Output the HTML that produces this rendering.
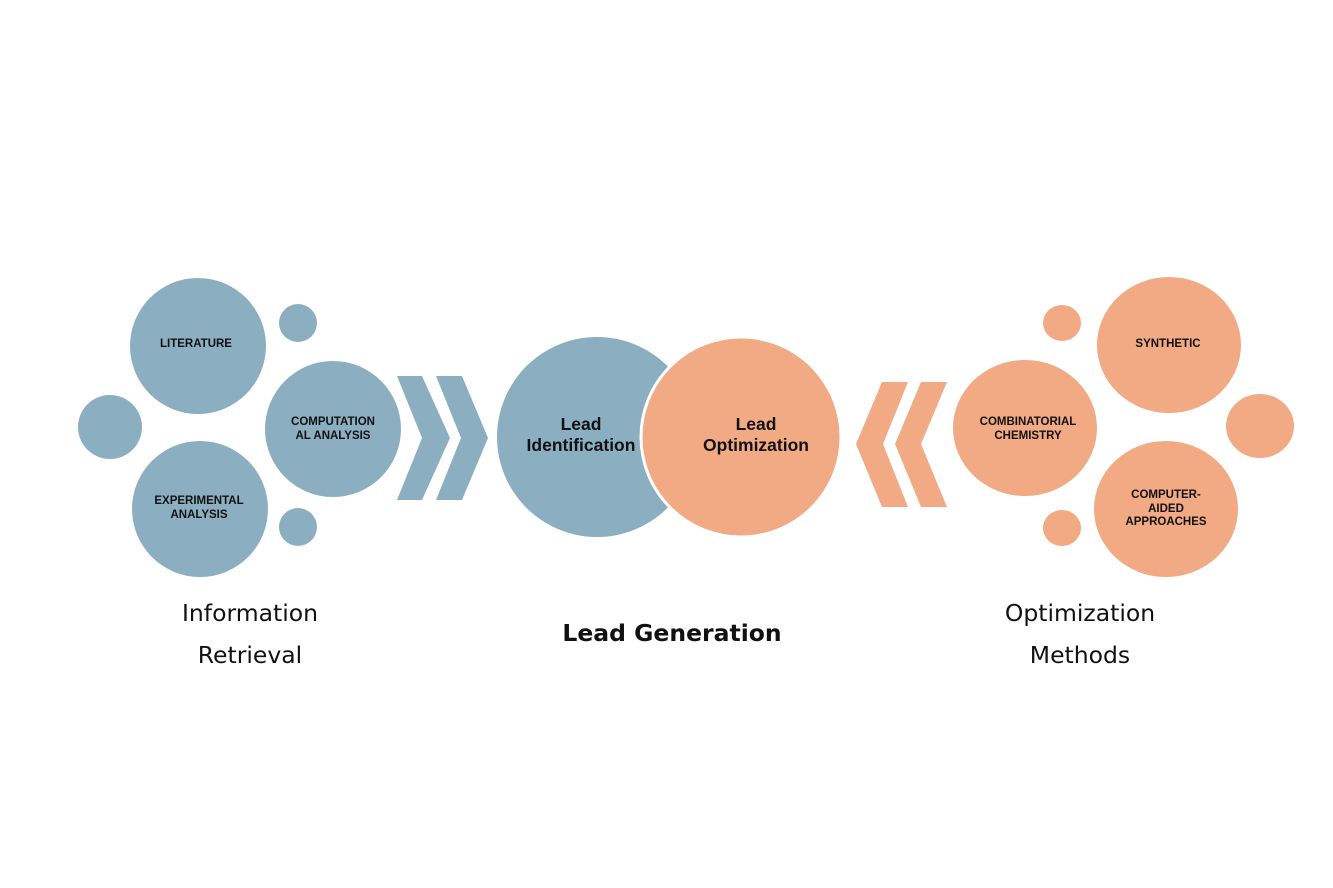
<!DOCTYPE html>
<html><head><meta charset="utf-8"><style>
body{margin:0;background:#fff;}
svg{display:block;}
.s{font-family:"Liberation Sans",sans-serif;font-weight:bold;font-size:11.5px;fill:#111;text-anchor:middle;}
.m{font-family:"Liberation Sans",sans-serif;font-weight:bold;font-size:17.5px;fill:#111;text-anchor:middle;}
.l{font-family:"DejaVu Sans","Liberation Sans",sans-serif;font-size:23.5px;fill:#111;text-anchor:middle;}
</style></head><body>
<svg width="1333" height="888" viewBox="0 0 1333 888">
<g fill="#8BAFC1">
<circle cx="198" cy="346" r="68"/>
<circle cx="200" cy="509" r="68"/>
<circle cx="333" cy="429" r="68"/>
<circle cx="110" cy="427" r="32"/>
<circle cx="298" cy="323" r="19"/>
<circle cx="298" cy="527" r="19"/>
<polygon points="397,376 422,376 450,438 422,500 397,500 422,438"/>
<polygon points="436,376 462,376 488,438 462,500 436,500 461,438"/>
<ellipse cx="597" cy="437" rx="100" ry="100"/>
</g>
<g fill="#F2AA84">
<ellipse cx="741" cy="437" rx="100" ry="100" stroke="#fff" stroke-width="3"/>
<polygon points="908,382 882,382 856,444 882,507 908,507 883,444"/>
<polygon points="947,382 921,382 895,444 921,507 947,507 921,444"/>
<ellipse cx="1025" cy="428" rx="72" ry="68"/>
<ellipse cx="1169" cy="345" rx="72" ry="68"/>
<ellipse cx="1166" cy="509" rx="72" ry="68"/>
<ellipse cx="1260" cy="426" rx="34" ry="32"/>
<ellipse cx="1062" cy="323" rx="19" ry="18"/>
<ellipse cx="1062" cy="528" rx="19" ry="18"/>
</g>
<text class="s" x="196" y="347">LITERATURE</text>
<text class="s" x="333" y="425">COMPUTATION</text>
<text class="s" x="333" y="439">AL ANALYSIS</text>
<text class="s" x="199" y="504">EXPERIMENTAL</text>
<text class="s" x="199" y="518">ANALYSIS</text>
<text class="s" x="1028" y="425">COMBINATORIAL</text>
<text class="s" x="1028" y="439">CHEMISTRY</text>
<text class="s" x="1168" y="347">SYNTHETIC</text>
<text class="s" x="1166" y="498">COMPUTER-</text>
<text class="s" x="1166" y="512">AIDED</text>
<text class="s" x="1166" y="525">APPROACHES</text>
<text class="m" x="581" y="430">Lead</text>
<text class="m" x="581" y="451">Identification</text>
<text class="m" x="756" y="430">Lead</text>
<text class="m" x="756" y="451">Optimization</text>
<text class="l" x="250" y="621">Information</text>
<text class="l" x="250" y="663">Retrieval</text>
<text class="l" x="1080" y="621">Optimization</text>
<text class="l" x="1080" y="663">Methods</text>
<text class="l" x="672" y="641" style="font-weight:bold">Lead Generation</text>
</svg>
</body></html>
